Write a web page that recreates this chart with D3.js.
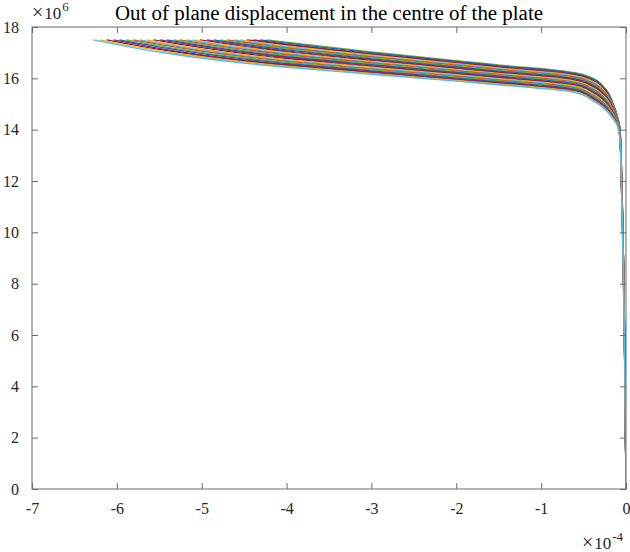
<!DOCTYPE html>
<html><head><meta charset="utf-8">
<script src="https://cdn.jsdelivr.net/npm/d3@7"></script>
<style>body{margin:0;background:#fff}</style>
</head><body><svg id="c" width="630" height="552"></svg>
<script>
// ---- data (x in units of 1e-4, y in units of 1e6) ----
const xTicks = [-7, -6, -5, -4, -3, -2, -1, 0];
const yTicks = [0, 2, 4, 6, 8, 10, 12, 14, 16, 18];
const xExponent = "-4";
const yExponent = "6";
const titleText = "Out of plane displacement in the centre of the plate";
const maxLoad = 17.5;
// displacement sample positions shared by all curves
const dispGrid = [-4.0, -3.0, -2.0, -1.4, -0.9, -0.6, -0.4, -0.25, -0.15, -0.1, -0.07, -0.05, 0];
// displacement where each curve reaches the final load
const endDisp = [-4.23, -4.31, -4.39, -4.47, -4.55, -4.62, -4.70, -4.78, -4.86, -4.94, -5.02, -5.10, -5.18, -5.26,
                 -5.33, -5.41, -5.49, -5.57, -5.65, -5.73, -5.81, -5.89, -5.97, -6.04, -6.12, -6.20, -6.28];
// load of each curve at the dispGrid positions
const seriesLoads = [
 [17.41,17.03,16.69,16.49,16.35,16.22,16.02,15.62,15.00,14.50,14.00,12.00,0],
 [17.37,17.00,16.66,16.46,16.32,16.19,15.99,15.59,14.98,14.49,13.98,11.97,0],
 [17.33,16.96,16.63,16.43,16.29,16.16,15.95,15.56,14.96,14.47,13.97,11.95,0],
 [17.30,16.93,16.60,16.40,16.26,16.13,15.92,15.53,14.93,14.46,13.95,11.92,0],
 [17.26,16.90,16.57,16.37,16.23,16.10,15.89,15.49,14.91,14.45,13.94,11.89,0],
 [17.22,16.86,16.54,16.34,16.20,16.07,15.85,15.46,14.89,14.43,13.92,11.87,0],
 [17.18,16.83,16.51,16.31,16.17,16.04,15.82,15.43,14.87,14.42,13.91,11.84,0],
 [17.15,16.80,16.47,16.28,16.14,16.01,15.79,15.40,14.84,14.41,13.89,11.81,0],
 [17.11,16.76,16.44,16.25,16.11,15.98,15.75,15.37,14.82,14.39,13.88,11.78,0],
 [17.07,16.73,16.41,16.22,16.08,15.95,15.72,15.34,14.80,14.38,13.86,11.76,0],
 [17.03,16.70,16.38,16.19,16.05,15.92,15.69,15.30,14.78,14.37,13.85,11.73,0],
 [17.00,16.66,16.35,16.16,16.02,15.89,15.65,15.27,14.75,14.35,13.83,11.70,0],
 [16.96,16.63,16.32,16.13,15.99,15.86,15.62,15.24,14.73,14.34,13.82,11.68,0],
 [16.92,16.60,16.29,16.11,15.97,15.84,15.59,15.21,14.71,14.33,13.80,11.65,0],
 [16.88,16.56,16.26,16.08,15.94,15.81,15.55,15.18,14.69,14.31,13.78,11.62,0],
 [16.84,16.53,16.23,16.05,15.91,15.78,15.52,15.15,14.67,14.30,13.77,11.60,0],
 [16.81,16.49,16.20,16.02,15.88,15.75,15.48,15.12,14.64,14.28,13.75,11.57,0],
 [16.77,16.46,16.17,15.99,15.85,15.72,15.45,15.09,14.62,14.27,13.74,11.54,0],
 [16.73,16.43,16.14,15.96,15.82,15.69,15.42,15.05,14.60,14.26,13.72,11.52,0],
 [16.69,16.39,16.11,15.93,15.79,15.66,15.38,15.02,14.58,14.24,13.71,11.49,0],
 [16.66,16.36,16.07,15.90,15.76,15.63,15.35,14.99,14.55,14.23,13.69,11.46,0],
 [16.62,16.33,16.04,15.87,15.73,15.60,15.32,14.96,14.53,14.22,13.68,11.43,0],
 [16.58,16.29,16.01,15.84,15.70,15.57,15.28,14.93,14.51,14.20,13.66,11.41,0],
 [16.54,16.26,15.98,15.81,15.67,15.54,15.25,14.90,14.49,14.19,13.65,11.38,0],
 [16.51,16.23,15.95,15.78,15.64,15.51,15.22,14.86,14.46,14.18,13.63,11.35,0],
 [16.47,16.19,15.92,15.75,15.61,15.48,15.18,14.83,14.44,14.17,13.62,11.33,0],
 [16.43,16.16,15.89,15.72,15.58,15.45,15.15,14.80,14.42,14.15,13.60,11.30,0]
];

// ---- style ----
const palette = ["#0072BD", "#D95319", "#EDB120", "#7E2F8E", "#77AC30", "#4DBEEE", "#A2142F"];
const font = "'Liberation Serif', 'DejaVu Serif', serif";
const m = {left: 32, right: 626, top: 27, bottom: 489};

const svg = d3.select("#c");
const x = d3.scaleLinear().domain([-7, 0]).range([m.left, m.right]);
const y = d3.scaleLinear().domain([0, 18]).range([m.bottom, m.top]);

svg.append("defs").append("clipPath").attr("id", "clip")
  .append("rect").attr("x", m.left).attr("y", m.top)
  .attr("width", m.right - m.left).attr("height", m.bottom - m.top);

const line = d3.line().x(d => x(d[0])).y(d => y(d[1])).curve(d3.curveMonotoneY);
const g = svg.append("g").attr("clip-path", "url(#clip)");
seriesLoads.forEach((loads, i) => {
  const pts = [[endDisp[i], maxLoad]].concat(dispGrid.map((xv, j) => [xv, loads[j]]));
  g.append("path").attr("d", line(pts)).attr("fill", "none")
    .attr("stroke", palette[(i * 3 + 4) % 7]).attr("stroke-width", 1.4);
});

// axes box with inward ticks on all sides
const axisColor = "#6b6b6b";
const tl = 6;
const fmt = d => String(d);
function styleAxis(sel) {
  sel.select(".domain").remove();
  sel.selectAll(".tick line").attr("stroke", axisColor);
  sel.selectAll(".tick text").attr("fill", "#262626").style("font-family", font).style("font-size", "16px");
}
svg.append("g").attr("transform", `translate(0,${m.bottom})`)
  .call(d3.axisBottom(x).tickValues(xTicks).tickSize(-tl).tickPadding(14).tickFormat(fmt))
  .call(styleAxis);
svg.append("g").attr("transform", `translate(0,${m.top})`)
  .call(d3.axisTop(x).tickValues(xTicks).tickSize(-tl).tickFormat(""))
  .call(styleAxis);
svg.append("g").attr("transform", `translate(${m.left},0)`)
  .call(d3.axisLeft(y).tickValues(yTicks).tickSize(-tl).tickPadding(13).tickFormat(fmt))
  .call(styleAxis);
svg.append("g").attr("transform", `translate(${m.right},0)`)
  .call(d3.axisRight(y).tickValues(yTicks).tickSize(-tl).tickFormat(""))
  .call(styleAxis);
svg.append("rect").attr("x", m.left).attr("y", m.top)
  .attr("width", m.right - m.left).attr("height", m.bottom - m.top)
  .attr("fill", "none").attr("stroke", axisColor).attr("stroke-width", 1);

// title
svg.append("text").attr("x", (m.left + m.right) / 2).attr("y", 20)
  .attr("text-anchor", "middle").attr("fill", "#000")
  .attr("textLength", 428).attr("lengthAdjust", "spacingAndGlyphs")
  .style("font-family", font).style("font-size", "20px").text(titleText);

// exponent labels
function exponentLabel(x0, base, exp) {
  const t = svg.append("text").attr("x", x0).attr("y", base).attr("fill", "#262626")
    .style("font-family", font).style("font-size", "17px");
  t.append("tspan").style("font-size", "20px").text("\u00d7");
  t.append("tspan").attr("dx", 1).text("10");
  t.append("tspan").attr("dy", -8).attr("dx", 1).style("font-size", "13px").text(exp);
}
exponentLabel(32, 19, yExponent);
exponentLabel(582, 549, xExponent);
</script></body></html>
